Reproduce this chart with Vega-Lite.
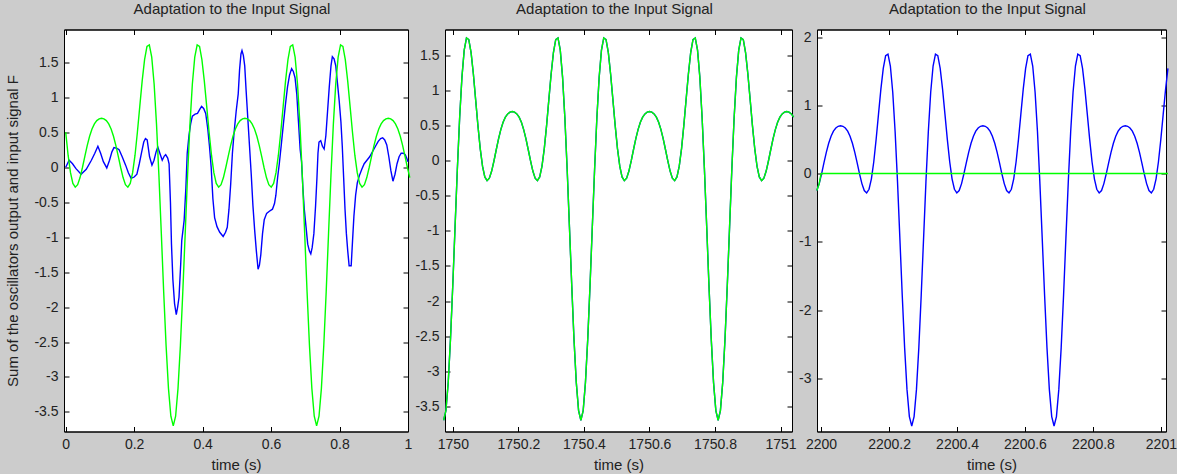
{
"$schema":"https://vega.github.io/schema/vega-lite/v6.json",
"background":"#cccccc",
"padding":{"left":4,"top":0.5,"right":0,"bottom":0},
"config":{
 "view":{"stroke":"#000","strokeWidth":1,"fill":"white"},
 "font":"Liberation Sans",
 "axis":{"grid":false,"domainColor":"#000","tickColor":"#000","tickSize":-5,"labelPadding":11,"labelFontSize":14,"labelColor":"#222","titleFontSize":15,"titleFontWeight":"normal","titleColor":"#222","labelFlush":false,"labelOverlap":false,"labelBound":false},
 "title":{"fontSize":15,"fontWeight":"normal","color":"#222","offset":12.5,"baseline":"alphabetic","dx":-4},
 "line":{"strokeWidth":1.4,"clip":true}
},
"datasets":{
"p1out":[{"t":0,"v":0},{"t":0.01,"v":0.1},{"t":0.02,"v":0.05},{"t":0.03,"v":-0.02},{"t":0.045,"v":-0.1},{"t":0.06,"v":-0.03},{"t":0.075,"v":0.1},{"t":0.085,"v":0.2},{"t":0.094,"v":0.3},{"t":0.102,"v":0.2},{"t":0.11,"v":0.08},{"t":0.12,"v":-0.01},{"t":0.128,"v":0.1},{"t":0.135,"v":0.22},{"t":0.141,"v":0.28},{"t":0.15,"v":0.27},{"t":0.156,"v":0.25},{"t":0.165,"v":0.15},{"t":0.175,"v":0.03},{"t":0.183,"v":-0.08},{"t":0.191,"v":-0.16},{"t":0.2,"v":-0.14},{"t":0.208,"v":-0.1},{"t":0.215,"v":0.05},{"t":0.222,"v":0.22},{"t":0.228,"v":0.36},{"t":0.233,"v":0.41},{"t":0.238,"v":0.39},{"t":0.245,"v":0.15},{"t":0.252,"v":0.03},{"t":0.258,"v":0.1},{"t":0.264,"v":0.22},{"t":0.269,"v":0.29},{"t":0.275,"v":0.2},{"t":0.282,"v":0.1},{"t":0.288,"v":0.16},{"t":0.292,"v":0.18},{"t":0.298,"v":0.13},{"t":0.302,"v":0.05},{"t":0.306,"v":-0.5},{"t":0.309,"v":-1.1},{"t":0.313,"v":-1.6},{"t":0.318,"v":-1.95},{"t":0.323,"v":-2.11},{"t":0.327,"v":-2.0},{"t":0.331,"v":-1.86},{"t":0.336,"v":-1.38},{"t":0.339,"v":-1.05},{"t":0.346,"v":-0.76},{"t":0.351,"v":-0.3},{"t":0.355,"v":0.2},{"t":0.36,"v":0.45},{"t":0.365,"v":0.62},{"t":0.37,"v":0.73},{"t":0.378,"v":0.76},{"t":0.385,"v":0.77},{"t":0.392,"v":0.83},{"t":0.397,"v":0.87},{"t":0.403,"v":0.84},{"t":0.409,"v":0.77},{"t":0.415,"v":0.55},{"t":0.42,"v":0.3},{"t":0.425,"v":0.0},{"t":0.43,"v":-0.45},{"t":0.435,"v":-0.72},{"t":0.442,"v":-0.85},{"t":0.45,"v":-0.93},{"t":0.46,"v":-0.99},{"t":0.467,"v":-0.93},{"t":0.472,"v":-0.86},{"t":0.477,"v":-0.6},{"t":0.482,"v":-0.24},{"t":0.487,"v":0.2},{"t":0.492,"v":0.5},{"t":0.498,"v":0.8},{"t":0.504,"v":1.05},{"t":0.508,"v":1.4},{"t":0.512,"v":1.62},{"t":0.515,"v":1.67},{"t":0.519,"v":1.6},{"t":0.523,"v":1.45},{"t":0.527,"v":1.1},{"t":0.532,"v":0.7},{"t":0.537,"v":0.3},{"t":0.542,"v":-0.1},{"t":0.547,"v":-0.55},{"t":0.552,"v":-0.9},{"t":0.557,"v":-1.2},{"t":0.562,"v":-1.46},{"t":0.566,"v":-1.4},{"t":0.57,"v":-1.25},{"t":0.575,"v":-0.95},{"t":0.58,"v":-0.75},{"t":0.587,"v":-0.66},{"t":0.595,"v":-0.63},{"t":0.604,"v":-0.6},{"t":0.61,"v":-0.52},{"t":0.614,"v":-0.4},{"t":0.619,"v":-0.15},{"t":0.624,"v":0.05},{"t":0.63,"v":0.33},{"t":0.636,"v":0.62},{"t":0.642,"v":0.9},{"t":0.648,"v":1.15},{"t":0.654,"v":1.32},{"t":0.66,"v":1.41},{"t":0.665,"v":1.37},{"t":0.67,"v":1.28},{"t":0.675,"v":1.05},{"t":0.68,"v":0.65},{"t":0.685,"v":0.25},{"t":0.689,"v":0.08},{"t":0.693,"v":-0.3},{"t":0.697,"v":-0.6},{"t":0.702,"v":-0.85},{"t":0.707,"v":-1.1},{"t":0.712,"v":-1.2},{"t":0.716,"v":-1.24},{"t":0.72,"v":-1.15},{"t":0.725,"v":-0.95},{"t":0.73,"v":-0.55},{"t":0.734,"v":-0.15},{"t":0.737,"v":0.2},{"t":0.74,"v":0.36},{"t":0.745,"v":0.38},{"t":0.75,"v":0.3},{"t":0.755,"v":0.26},{"t":0.76,"v":0.45},{"t":0.765,"v":0.8},{"t":0.77,"v":1.15},{"t":0.775,"v":1.45},{"t":0.779,"v":1.58},{"t":0.784,"v":1.55},{"t":0.789,"v":1.45},{"t":0.794,"v":1.2},{"t":0.799,"v":0.95},{"t":0.804,"v":0.65},{"t":0.808,"v":0.3},{"t":0.812,"v":-0.15},{"t":0.816,"v":-0.6},{"t":0.82,"v":-0.95},{"t":0.824,"v":-1.2},{"t":0.828,"v":-1.41},{"t":0.834,"v":-1.41},{"t":0.838,"v":-1.05},{"t":0.842,"v":-0.7},{"t":0.847,"v":-0.4},{"t":0.852,"v":-0.22},{"t":0.858,"v":-0.12},{"t":0.865,"v":-0.03},{"t":0.872,"v":0.05},{"t":0.88,"v":0.1},{"t":0.888,"v":0.15},{"t":0.896,"v":0.22},{"t":0.905,"v":0.3},{"t":0.913,"v":0.37},{"t":0.92,"v":0.41},{"t":0.926,"v":0.42},{"t":0.932,"v":0.39},{"t":0.938,"v":0.32},{"t":0.944,"v":0.15},{"t":0.95,"v":-0.05},{"t":0.956,"v":-0.2},{"t":0.962,"v":-0.1},{"t":0.968,"v":0.05},{"t":0.974,"v":0.15},{"t":0.98,"v":0.2},{"t":0.986,"v":0.2},{"t":0.992,"v":0.18},{"t":0.997,"v":0.12},{"t":1.0,"v":0.08}],
"p1in":[{"t":0,"v":0.5},{"t":0.007,"v":0.172},{"t":0.014,"v":-0.078},{"t":0.0209,"v":-0.231},{"t":0.0279,"v":-0.285},{"t":0.0349,"v":-0.25},{"t":0.0419,"v":-0.148},{"t":0.0489,"v":-0.004},{"t":0.0559,"v":0.156},{"t":0.0628,"v":0.31},{"t":0.0698,"v":0.443},{"t":0.0768,"v":0.547},{"t":0.0838,"v":0.62},{"t":0.0908,"v":0.667},{"t":0.0977,"v":0.692},{"t":0.1047,"v":0.7},{"t":0.1117,"v":0.692},{"t":0.1187,"v":0.667},{"t":0.1257,"v":0.62},{"t":0.1326,"v":0.547},{"t":0.1396,"v":0.443},{"t":0.1466,"v":0.31},{"t":0.1536,"v":0.156},{"t":0.1606,"v":-0.004},{"t":0.1676,"v":-0.148},{"t":0.1745,"v":-0.25},{"t":0.1815,"v":-0.285},{"t":0.1885,"v":-0.231},{"t":0.1955,"v":-0.078},{"t":0.2025,"v":0.172},{"t":0.2094,"v":0.5},{"t":0.2164,"v":0.87},{"t":0.2234,"v":1.236},{"t":0.2304,"v":1.54},{"t":0.2374,"v":1.727},{"t":0.2443,"v":1.75},{"t":0.2513,"v":1.575},{"t":0.2583,"v":1.191},{"t":0.2653,"v":0.613},{"t":0.2723,"v":-0.119},{"t":0.2793,"v":-0.943},{"t":0.2862,"v":-1.78},{"t":0.2932,"v":-2.547},{"t":0.3002,"v":-3.163},{"t":0.3072,"v":-3.562},{"t":0.3142,"v":-3.7},{"t":0.3211,"v":-3.562},{"t":0.3281,"v":-3.163},{"t":0.3351,"v":-2.547},{"t":0.3421,"v":-1.78},{"t":0.3491,"v":-0.943},{"t":0.356,"v":-0.119},{"t":0.363,"v":0.613},{"t":0.37,"v":1.191},{"t":0.377,"v":1.575},{"t":0.384,"v":1.75},{"t":0.391,"v":1.727},{"t":0.3979,"v":1.54},{"t":0.4049,"v":1.236},{"t":0.4119,"v":0.87},{"t":0.4189,"v":0.5},{"t":0.4259,"v":0.172},{"t":0.4328,"v":-0.078},{"t":0.4398,"v":-0.231},{"t":0.4468,"v":-0.285},{"t":0.4538,"v":-0.25},{"t":0.4608,"v":-0.148},{"t":0.4677,"v":-0.004},{"t":0.4747,"v":0.156},{"t":0.4817,"v":0.31},{"t":0.4887,"v":0.443},{"t":0.4957,"v":0.547},{"t":0.5027,"v":0.62},{"t":0.5096,"v":0.667},{"t":0.5166,"v":0.692},{"t":0.5236,"v":0.7},{"t":0.5306,"v":0.692},{"t":0.5376,"v":0.667},{"t":0.5445,"v":0.62},{"t":0.5515,"v":0.547},{"t":0.5585,"v":0.443},{"t":0.5655,"v":0.31},{"t":0.5725,"v":0.156},{"t":0.5794,"v":-0.004},{"t":0.5864,"v":-0.148},{"t":0.5934,"v":-0.25},{"t":0.6004,"v":-0.285},{"t":0.6074,"v":-0.231},{"t":0.6144,"v":-0.078},{"t":0.6213,"v":0.172},{"t":0.6283,"v":0.5},{"t":0.6353,"v":0.87},{"t":0.6423,"v":1.236},{"t":0.6493,"v":1.54},{"t":0.6562,"v":1.727},{"t":0.6632,"v":1.75},{"t":0.6702,"v":1.575},{"t":0.6772,"v":1.191},{"t":0.6842,"v":0.613},{"t":0.6912,"v":-0.119},{"t":0.6981,"v":-0.943},{"t":0.7051,"v":-1.78},{"t":0.7121,"v":-2.547},{"t":0.7191,"v":-3.163},{"t":0.7261,"v":-3.562},{"t":0.733,"v":-3.7},{"t":0.74,"v":-3.562},{"t":0.747,"v":-3.163},{"t":0.754,"v":-2.547},{"t":0.761,"v":-1.78},{"t":0.7679,"v":-0.943},{"t":0.7749,"v":-0.119},{"t":0.7819,"v":0.613},{"t":0.7889,"v":1.191},{"t":0.7959,"v":1.575},{"t":0.8029,"v":1.75},{"t":0.8098,"v":1.727},{"t":0.8168,"v":1.54},{"t":0.8238,"v":1.236},{"t":0.8308,"v":0.87},{"t":0.8378,"v":0.5},{"t":0.8447,"v":0.172},{"t":0.8517,"v":-0.078},{"t":0.8587,"v":-0.231},{"t":0.8657,"v":-0.285},{"t":0.8727,"v":-0.25},{"t":0.8796,"v":-0.148},{"t":0.8866,"v":-0.004},{"t":0.8936,"v":0.156},{"t":0.9006,"v":0.31},{"t":0.9076,"v":0.443},{"t":0.9146,"v":0.547},{"t":0.9215,"v":0.62},{"t":0.9285,"v":0.667},{"t":0.9355,"v":0.692},{"t":0.9425,"v":0.7},{"t":0.9495,"v":0.692},{"t":0.9564,"v":0.667},{"t":0.9634,"v":0.62},{"t":0.9704,"v":0.547},{"t":0.9774,"v":0.443},{"t":0.9844,"v":0.31},{"t":0.9913,"v":0.156},{"t":0.9983,"v":-0.004},{"t":1.0053,"v":-0.148}],
"p2":[{"t":1749.9718,"v":-3.7},{"t":1749.9788,"v":-3.562},{"t":1749.9858,"v":-3.163},{"t":1749.9927,"v":-2.547},{"t":1749.9997,"v":-1.78},{"t":1750.0067,"v":-0.943},{"t":1750.0137,"v":-0.119},{"t":1750.0207,"v":0.613},{"t":1750.0277,"v":1.191},{"t":1750.0346,"v":1.575},{"t":1750.0416,"v":1.75},{"t":1750.0486,"v":1.727},{"t":1750.0556,"v":1.54},{"t":1750.0626,"v":1.236},{"t":1750.0695,"v":0.87},{"t":1750.0765,"v":0.5},{"t":1750.0835,"v":0.172},{"t":1750.0905,"v":-0.078},{"t":1750.0975,"v":-0.231},{"t":1750.1044,"v":-0.285},{"t":1750.1114,"v":-0.25},{"t":1750.1184,"v":-0.148},{"t":1750.1254,"v":-0.004},{"t":1750.1324,"v":0.156},{"t":1750.1394,"v":0.31},{"t":1750.1463,"v":0.443},{"t":1750.1533,"v":0.547},{"t":1750.1603,"v":0.62},{"t":1750.1673,"v":0.667},{"t":1750.1743,"v":0.692},{"t":1750.1812,"v":0.7},{"t":1750.1882,"v":0.692},{"t":1750.1952,"v":0.667},{"t":1750.2022,"v":0.62},{"t":1750.2092,"v":0.547},{"t":1750.2161,"v":0.443},{"t":1750.2231,"v":0.31},{"t":1750.2301,"v":0.156},{"t":1750.2371,"v":-0.004},{"t":1750.2441,"v":-0.148},{"t":1750.2511,"v":-0.25},{"t":1750.258,"v":-0.285},{"t":1750.265,"v":-0.231},{"t":1750.272,"v":-0.078},{"t":1750.279,"v":0.172},{"t":1750.286,"v":0.5},{"t":1750.2929,"v":0.87},{"t":1750.2999,"v":1.236},{"t":1750.3069,"v":1.54},{"t":1750.3139,"v":1.727},{"t":1750.3209,"v":1.75},{"t":1750.3278,"v":1.575},{"t":1750.3348,"v":1.191},{"t":1750.3418,"v":0.613},{"t":1750.3488,"v":-0.119},{"t":1750.3558,"v":-0.943},{"t":1750.3628,"v":-1.78},{"t":1750.3697,"v":-2.547},{"t":1750.3767,"v":-3.163},{"t":1750.3837,"v":-3.562},{"t":1750.3907,"v":-3.7},{"t":1750.3977,"v":-3.562},{"t":1750.4046,"v":-3.163},{"t":1750.4116,"v":-2.547},{"t":1750.4186,"v":-1.78},{"t":1750.4256,"v":-0.943},{"t":1750.4326,"v":-0.119},{"t":1750.4395,"v":0.613},{"t":1750.4465,"v":1.191},{"t":1750.4535,"v":1.575},{"t":1750.4605,"v":1.75},{"t":1750.4675,"v":1.727},{"t":1750.4745,"v":1.54},{"t":1750.4814,"v":1.236},{"t":1750.4884,"v":0.87},{"t":1750.4954,"v":0.5},{"t":1750.5024,"v":0.172},{"t":1750.5094,"v":-0.078},{"t":1750.5163,"v":-0.231},{"t":1750.5233,"v":-0.285},{"t":1750.5303,"v":-0.25},{"t":1750.5373,"v":-0.148},{"t":1750.5443,"v":-0.004},{"t":1750.5512,"v":0.156},{"t":1750.5582,"v":0.31},{"t":1750.5652,"v":0.443},{"t":1750.5722,"v":0.547},{"t":1750.5792,"v":0.62},{"t":1750.5862,"v":0.667},{"t":1750.5931,"v":0.692},{"t":1750.6001,"v":0.7},{"t":1750.6071,"v":0.692},{"t":1750.6141,"v":0.667},{"t":1750.6211,"v":0.62},{"t":1750.628,"v":0.547},{"t":1750.635,"v":0.443},{"t":1750.642,"v":0.31},{"t":1750.649,"v":0.156},{"t":1750.656,"v":-0.004},{"t":1750.663,"v":-0.148},{"t":1750.6699,"v":-0.25},{"t":1750.6769,"v":-0.285},{"t":1750.6839,"v":-0.231},{"t":1750.6909,"v":-0.078},{"t":1750.6979,"v":0.172},{"t":1750.7048,"v":0.5},{"t":1750.7118,"v":0.87},{"t":1750.7188,"v":1.236},{"t":1750.7258,"v":1.54},{"t":1750.7328,"v":1.727},{"t":1750.7397,"v":1.75},{"t":1750.7467,"v":1.575},{"t":1750.7537,"v":1.191},{"t":1750.7607,"v":0.613},{"t":1750.7677,"v":-0.119},{"t":1750.7747,"v":-0.943},{"t":1750.7816,"v":-1.78},{"t":1750.7886,"v":-2.547},{"t":1750.7956,"v":-3.163},{"t":1750.8026,"v":-3.562},{"t":1750.8096,"v":-3.7},{"t":1750.8165,"v":-3.562},{"t":1750.8235,"v":-3.163},{"t":1750.8305,"v":-2.547},{"t":1750.8375,"v":-1.78},{"t":1750.8445,"v":-0.943},{"t":1750.8514,"v":-0.119},{"t":1750.8584,"v":0.613},{"t":1750.8654,"v":1.191},{"t":1750.8724,"v":1.575},{"t":1750.8794,"v":1.75},{"t":1750.8864,"v":1.727},{"t":1750.8933,"v":1.54},{"t":1750.9003,"v":1.236},{"t":1750.9073,"v":0.87},{"t":1750.9143,"v":0.5},{"t":1750.9213,"v":0.172},{"t":1750.9282,"v":-0.078},{"t":1750.9352,"v":-0.231},{"t":1750.9422,"v":-0.285},{"t":1750.9492,"v":-0.25},{"t":1750.9562,"v":-0.148},{"t":1750.9631,"v":-0.004},{"t":1750.9701,"v":0.156},{"t":1750.9771,"v":0.31},{"t":1750.9841,"v":0.443},{"t":1750.9911,"v":0.547},{"t":1750.9981,"v":0.62},{"t":1751.005,"v":0.667},{"t":1751.012,"v":0.692},{"t":1751.019,"v":0.7},{"t":1751.026,"v":0.692},{"t":1751.033,"v":0.667},{"t":1751.04,"v":0.62}],
"p3out":[{"t":2199.9875,"v":-0.25},{"t":2199.9945,"v":-0.148},{"t":2200.0015,"v":-0.004},{"t":2200.0084,"v":0.156},{"t":2200.0154,"v":0.31},{"t":2200.0224,"v":0.443},{"t":2200.0294,"v":0.547},{"t":2200.0364,"v":0.62},{"t":2200.0434,"v":0.667},{"t":2200.0503,"v":0.692},{"t":2200.0573,"v":0.7},{"t":2200.0643,"v":0.692},{"t":2200.0713,"v":0.667},{"t":2200.0783,"v":0.62},{"t":2200.0852,"v":0.547},{"t":2200.0922,"v":0.443},{"t":2200.0992,"v":0.31},{"t":2200.1062,"v":0.156},{"t":2200.1132,"v":-0.004},{"t":2200.1201,"v":-0.148},{"t":2200.1271,"v":-0.25},{"t":2200.1341,"v":-0.285},{"t":2200.1411,"v":-0.231},{"t":2200.1481,"v":-0.078},{"t":2200.1551,"v":0.172},{"t":2200.162,"v":0.5},{"t":2200.169,"v":0.87},{"t":2200.176,"v":1.236},{"t":2200.183,"v":1.54},{"t":2200.19,"v":1.727},{"t":2200.1969,"v":1.75},{"t":2200.2039,"v":1.575},{"t":2200.2109,"v":1.191},{"t":2200.2179,"v":0.613},{"t":2200.2249,"v":-0.119},{"t":2200.2318,"v":-0.943},{"t":2200.2388,"v":-1.78},{"t":2200.2458,"v":-2.547},{"t":2200.2528,"v":-3.163},{"t":2200.2598,"v":-3.562},{"t":2200.2668,"v":-3.7},{"t":2200.2737,"v":-3.562},{"t":2200.2807,"v":-3.163},{"t":2200.2877,"v":-2.547},{"t":2200.2947,"v":-1.78},{"t":2200.3017,"v":-0.943},{"t":2200.3086,"v":-0.119},{"t":2200.3156,"v":0.613},{"t":2200.3226,"v":1.191},{"t":2200.3296,"v":1.575},{"t":2200.3366,"v":1.75},{"t":2200.3435,"v":1.727},{"t":2200.3505,"v":1.54},{"t":2200.3575,"v":1.236},{"t":2200.3645,"v":0.87},{"t":2200.3715,"v":0.5},{"t":2200.3785,"v":0.172},{"t":2200.3854,"v":-0.078},{"t":2200.3924,"v":-0.231},{"t":2200.3994,"v":-0.285},{"t":2200.4064,"v":-0.25},{"t":2200.4134,"v":-0.148},{"t":2200.4203,"v":-0.004},{"t":2200.4273,"v":0.156},{"t":2200.4343,"v":0.31},{"t":2200.4413,"v":0.443},{"t":2200.4483,"v":0.547},{"t":2200.4552,"v":0.62},{"t":2200.4622,"v":0.667},{"t":2200.4692,"v":0.692},{"t":2200.4762,"v":0.7},{"t":2200.4832,"v":0.692},{"t":2200.4902,"v":0.667},{"t":2200.4971,"v":0.62},{"t":2200.5041,"v":0.547},{"t":2200.5111,"v":0.443},{"t":2200.5181,"v":0.31},{"t":2200.5251,"v":0.156},{"t":2200.532,"v":-0.004},{"t":2200.539,"v":-0.148},{"t":2200.546,"v":-0.25},{"t":2200.553,"v":-0.285},{"t":2200.56,"v":-0.231},{"t":2200.5669,"v":-0.078},{"t":2200.5739,"v":0.172},{"t":2200.5809,"v":0.5},{"t":2200.5879,"v":0.87},{"t":2200.5949,"v":1.236},{"t":2200.6019,"v":1.54},{"t":2200.6088,"v":1.727},{"t":2200.6158,"v":1.75},{"t":2200.6228,"v":1.575},{"t":2200.6298,"v":1.191},{"t":2200.6368,"v":0.613},{"t":2200.6437,"v":-0.119},{"t":2200.6507,"v":-0.943},{"t":2200.6577,"v":-1.78},{"t":2200.6647,"v":-2.547},{"t":2200.6717,"v":-3.163},{"t":2200.6787,"v":-3.562},{"t":2200.6856,"v":-3.7},{"t":2200.6926,"v":-3.562},{"t":2200.6996,"v":-3.163},{"t":2200.7066,"v":-2.547},{"t":2200.7136,"v":-1.78},{"t":2200.7205,"v":-0.943},{"t":2200.7275,"v":-0.119},{"t":2200.7345,"v":0.613},{"t":2200.7415,"v":1.191},{"t":2200.7485,"v":1.575},{"t":2200.7554,"v":1.75},{"t":2200.7624,"v":1.727},{"t":2200.7694,"v":1.54},{"t":2200.7764,"v":1.236},{"t":2200.7834,"v":0.87},{"t":2200.7904,"v":0.5},{"t":2200.7973,"v":0.172},{"t":2200.8043,"v":-0.078},{"t":2200.8113,"v":-0.231},{"t":2200.8183,"v":-0.285},{"t":2200.8253,"v":-0.25},{"t":2200.8322,"v":-0.148},{"t":2200.8392,"v":-0.004},{"t":2200.8462,"v":0.156},{"t":2200.8532,"v":0.31},{"t":2200.8602,"v":0.443},{"t":2200.8671,"v":0.547},{"t":2200.8741,"v":0.62},{"t":2200.8811,"v":0.667},{"t":2200.8881,"v":0.692},{"t":2200.8951,"v":0.7},{"t":2200.9021,"v":0.692},{"t":2200.909,"v":0.667},{"t":2200.916,"v":0.62},{"t":2200.923,"v":0.547},{"t":2200.93,"v":0.443},{"t":2200.937,"v":0.31},{"t":2200.9439,"v":0.156},{"t":2200.9509,"v":-0.004},{"t":2200.9579,"v":-0.148},{"t":2200.9649,"v":-0.25},{"t":2200.9719,"v":-0.285},{"t":2200.9788,"v":-0.231},{"t":2200.9858,"v":-0.078},{"t":2200.9928,"v":0.172},{"t":2200.9998,"v":0.5},{"t":2201.0068,"v":0.87},{"t":2201.0138,"v":1.236},{"t":2201.0207,"v":1.54}],
"p3in":[{"t":2199.9875,"v":-0.25},{"t":2199.9945,"v":-0.148},{"t":2200.0,"v":0},{"t":2201.0207,"v":0}]
},
"bounds":"flush",
"spacing":37,
"hconcat":[
 {"width":344,"height":402,"title":"Adaptation to the Input Signal",
  "resolve":{"axis":{"x":"independent","y":"independent"}},
  "layer":[
   {"data":{"name":"p1out"},"mark":{"type":"line","color":"#0000ff"},
    "encoding":{
     "x":{"field":"t","type":"quantitative","scale":{"domain":[-0.005,1],"nice":false,"zero":false},"axis":{"orient":"bottom","title":"time (s)","values":[0,0.2,0.4,0.6,0.8,1],"labelExpr":"toString(datum.value)","titleY":38,"titleBaseline":"alphabetic"}},
     "y":{"field":"v","type":"quantitative","scale":{"domain":[-3.78,1.97],"nice":false,"zero":false},"axis":{"orient":"left","title":"Sum of the oscillators output and input signal F","values":[-3.5,-3,-2.5,-2,-1.5,-1,-0.5,0,0.5,1,1.5],"labelExpr":"toString(datum.value)","titleX":-47,"titleBaseline":"alphabetic"}}}},
   {"data":{"name":"p1in"},"mark":{"type":"line","color":"#00ff00"},
    "encoding":{
     "x":{"field":"t","type":"quantitative","axis":{"orient":"top","labels":false,"title":null,"values":[0,0.2,0.4,0.6,0.8,1]}},
     "y":{"field":"v","type":"quantitative","axis":{"orient":"right","labels":false,"title":null,"values":[-3.5,-3,-2.5,-2,-1.5,-1,-0.5,0,0.5,1,1.5]}}}}
  ]},
 {"bounds":"flush","spacing":25,
  "hconcat":[
   {"width":347,"height":402,"title":"Adaptation to the Input Signal",
    "data":{"name":"p2"},
    "resolve":{"axis":{"x":"independent","y":"independent"}},
    "layer":[
     {"mark":{"type":"line","color":"#0000ff"},
      "encoding":{
       "x":{"field":"t","type":"quantitative","scale":{"domain":[1749.976,1751.035],"nice":false,"zero":false},"axis":{"orient":"bottom","title":"time (s)","values":[1750,1750.2,1750.4,1750.6,1750.8,1751],"labelExpr":"toString(datum.value)","titleY":38,"titleBaseline":"alphabetic"}},
       "y":{"field":"v","type":"quantitative","scale":{"domain":[-3.86,1.87],"nice":false,"zero":false},"axis":{"orient":"left","title":null,"values":[-3.5,-3,-2.5,-2,-1.5,-1,-0.5,0,0.5,1,1.5],"labelExpr":"toString(datum.value)"}}}},
     {"mark":{"type":"line","color":"#00ff00"},
      "encoding":{
       "x":{"field":"t","type":"quantitative","axis":{"orient":"top","labels":false,"title":null,"values":[1750,1750.2,1750.4,1750.6,1750.8,1751]}},
       "y":{"field":"v","type":"quantitative","axis":{"orient":"right","labels":false,"title":null,"values":[-3.5,-3,-2.5,-2,-1.5,-1,-0.5,0,0.5,1,1.5]}}}}
    ]},
   {"width":349,"height":402,"title":"Adaptation to the Input Signal",
    "resolve":{"axis":{"x":"independent","y":"independent"}},
    "layer":[
     {"data":{"name":"p3out"},"mark":{"type":"line","color":"#0000ff"},
      "encoding":{
       "x":{"field":"t","type":"quantitative","scale":{"domain":[2199.988,2201.015],"nice":false,"zero":false},"axis":{"orient":"bottom","title":"time (s)","values":[2200,2200.2,2200.4,2200.6,2200.8,2201],"labelExpr":"toString(datum.value)","titleY":38,"titleBaseline":"alphabetic"}},
       "y":{"field":"v","type":"quantitative","scale":{"domain":[-3.78,2.11],"nice":false,"zero":false},"axis":{"orient":"left","title":null,"values":[-3,-2,-1,0,1,2],"labelExpr":"toString(datum.value)"}}}},
     {"data":{"name":"p3in"},"mark":{"type":"line","color":"#00ff00"},
      "encoding":{
       "x":{"field":"t","type":"quantitative","axis":{"orient":"top","labels":false,"title":null,"values":[2200,2200.2,2200.4,2200.6,2200.8,2201]}},
       "y":{"field":"v","type":"quantitative","axis":{"orient":"right","labels":false,"title":null,"values":[-3,-2,-1,0,1,2]}}}}
    ]}
  ]}
]
}
